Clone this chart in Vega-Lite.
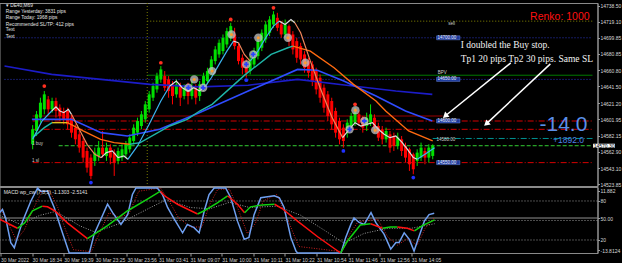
{
"$schema":"https://vega.github.io/schema/vega-lite/v6.json",
"background":"#000000",
"padding":{"left":-4.5,"top":2,"right":0,"bottom":0},
"spacing":1,
"bounds":"flush",
"config":{"view":{"stroke":"#8a8a8a","strokeWidth":1},"axis":{"labelFont":"Liberation Sans","grid":false,"title":null}},
"datasets":{
"candles":[
{"i":7,"o":14572,"c":14590,"h":14595,"l":14566},{"i":8,"o":14588,"c":14608,"h":14612,"l":14582},{"i":9,"o":14604,"c":14622,"h":14628,"l":14598},{"i":10,"o":14614,"c":14632,"h":14636,"l":14608},
{"i":11,"o":14626,"c":14614,"h":14630,"l":14608},{"i":12,"o":14614,"c":14624,"h":14628,"l":14610},{"i":13,"o":14624,"c":14612,"h":14628,"l":14604},{"i":14,"o":14616,"c":14606,"h":14620,"l":14600},
{"i":15,"o":14612,"c":14602,"h":14616,"l":14596},{"i":16,"o":14612,"c":14596,"h":14616,"l":14590},{"i":17,"o":14604,"c":14586,"h":14608,"l":14580},{"i":18,"o":14592,"c":14578,"h":14596,"l":14572},
{"i":19,"o":14584,"c":14568,"h":14588,"l":14562},{"i":20,"o":14576,"c":14556,"h":14580,"l":14550},{"i":21,"o":14564,"c":14544,"h":14568,"l":14538},{"i":22,"o":14556,"c":14534,"h":14560,"l":14530},
{"i":23,"o":14552,"c":14562,"h":14568,"l":14546},{"i":24,"o":14558,"c":14568,"h":14576,"l":14552},{"i":25,"o":14568,"c":14560,"h":14588,"l":14556},{"i":26,"o":14558,"c":14568,"h":14574,"l":14552},
{"i":27,"o":14568,"c":14556,"h":14572,"l":14548},{"i":28,"o":14562,"c":14550,"h":14566,"l":14534},{"i":29,"o":14552,"c":14564,"h":14568,"l":14548},{"i":30,"o":14556,"c":14566,"h":14572,"l":14552},
{"i":31,"o":14560,"c":14572,"h":14576,"l":14556},{"i":32,"o":14566,"c":14580,"h":14584,"l":14562},{"i":33,"o":14576,"c":14592,"h":14596,"l":14572},{"i":34,"o":14586,"c":14600,"h":14604,"l":14582},
{"i":35,"o":14594,"c":14608,"h":14612,"l":14590},{"i":36,"o":14602,"c":14620,"h":14624,"l":14598},{"i":37,"o":14614,"c":14632,"h":14636,"l":14610},{"i":38,"o":14628,"c":14642,"h":14646,"l":14624},
{"i":39,"o":14638,"c":14654,"h":14658,"l":14634},{"i":40,"o":14650,"c":14662,"h":14666,"l":14646},{"i":41,"o":14654,"c":14640,"h":14660,"l":14636},{"i":42,"o":14650,"c":14636,"h":14654,"l":14628},
{"i":43,"o":14644,"c":14630,"h":14648,"l":14620},{"i":44,"o":14632,"c":14644,"h":14650,"l":14628},{"i":45,"o":14642,"c":14628,"h":14646,"l":14618},{"i":46,"o":14630,"c":14640,"h":14644,"l":14626},
{"i":47,"o":14640,"c":14630,"h":14646,"l":14620},{"i":48,"o":14630,"c":14642,"h":14650,"l":14626},{"i":49,"o":14640,"c":14628,"h":14644,"l":14620},{"i":50,"o":14630,"c":14644,"h":14648,"l":14624},
{"i":51,"o":14640,"c":14654,"h":14658,"l":14636},{"i":52,"o":14648,"c":14660,"h":14664,"l":14644},{"i":53,"o":14660,"c":14674,"h":14678,"l":14656},{"i":54,"o":14672,"c":14686,"h":14690,"l":14668},
{"i":55,"o":14680,"c":14694,"h":14698,"l":14676},{"i":56,"o":14684,"c":14700,"h":14704,"l":14680},{"i":57,"o":14692,"c":14708,"h":14712,"l":14688},{"i":58,"o":14700,"c":14714,"h":14718,"l":14696},
{"i":59,"o":14704,"c":14690,"h":14712,"l":14686},{"i":60,"o":14690,"c":14672,"h":14694,"l":14668},{"i":61,"o":14676,"c":14664,"h":14680,"l":14656},{"i":62,"o":14670,"c":14658,"h":14674,"l":14652},
{"i":63,"o":14660,"c":14674,"h":14678,"l":14656},{"i":64,"o":14668,"c":14684,"h":14688,"l":14664},{"i":65,"o":14678,"c":14696,"h":14700,"l":14674},{"i":66,"o":14688,"c":14706,"h":14710,"l":14684},
{"i":67,"o":14698,"c":14716,"h":14720,"l":14694},{"i":68,"o":14706,"c":14722,"h":14726,"l":14702},{"i":69,"o":14716,"c":14728,"h":14732,"l":14712},{"i":70,"o":14724,"c":14712,"h":14730,"l":14708},
{"i":71,"o":14716,"c":14704,"h":14720,"l":14700},{"i":72,"o":14704,"c":14716,"h":14722,"l":14700},{"i":73,"o":14714,"c":14696,"h":14716,"l":14690},{"i":74,"o":14704,"c":14686,"h":14708,"l":14680},
{"i":75,"o":14696,"c":14676,"h":14700,"l":14670},{"i":76,"o":14690,"c":14674,"h":14694,"l":14668},{"i":77,"o":14680,"c":14664,"h":14684,"l":14658},{"i":78,"o":14672,"c":14658,"h":14676,"l":14652},
{"i":79,"o":14668,"c":14648,"h":14672,"l":14642},{"i":80,"o":14660,"c":14638,"h":14664,"l":14632},{"i":81,"o":14652,"c":14628,"h":14656,"l":14622},{"i":82,"o":14640,"c":14616,"h":14644,"l":14610},
{"i":83,"o":14632,"c":14606,"h":14636,"l":14600},{"i":84,"o":14624,"c":14596,"h":14628,"l":14590},{"i":85,"o":14612,"c":14586,"h":14616,"l":14580},{"i":86,"o":14600,"c":14578,"h":14604,"l":14572},
{"i":87,"o":14592,"c":14576,"h":14596,"l":14568},{"i":88,"o":14588,"c":14598,"h":14602,"l":14580},{"i":89,"o":14594,"c":14606,"h":14610,"l":14590},{"i":90,"o":14598,"c":14610,"h":14616,"l":14594},
{"i":91,"o":14608,"c":14598,"h":14612,"l":14594},{"i":92,"o":14604,"c":14592,"h":14606,"l":14586},{"i":93,"o":14594,"c":14604,"h":14610,"l":14588},{"i":94,"o":14598,"c":14608,"h":14620,"l":14594},
{"i":95,"o":14604,"c":14592,"h":14608,"l":14586},{"i":96,"o":14594,"c":14580,"h":14598,"l":14576},{"i":97,"o":14590,"c":14578,"h":14594,"l":14572},{"i":98,"o":14578,"c":14588,"h":14592,"l":14574},
{"i":99,"o":14584,"c":14568,"h":14588,"l":14562},{"i":100,"o":14582,"c":14570,"h":14586,"l":14564},{"i":101,"o":14570,"c":14580,"h":14586,"l":14566},{"i":102,"o":14578,"c":14564,"h":14582,"l":14558},
{"i":103,"o":14570,"c":14556,"h":14574,"l":14550},{"i":104,"o":14566,"c":14548,"h":14568,"l":14540},{"i":105,"o":14560,"c":14542,"h":14562,"l":14536},{"i":106,"o":14552,"c":14562,"h":14566,"l":14546},
{"i":107,"o":14556,"c":14568,"h":14574,"l":14552},{"i":108,"o":14564,"c":14556,"h":14568,"l":14548},{"i":109,"o":14556,"c":14568,"h":14572,"l":14550},{"i":110,"o":14558,"c":14570,"h":14572,"l":14554}
],
"levels":[
{"p":14720,"a":36.5,"b":151.14,"k":"tp"},{"p":14700,"a":-0.25,"b":151.14,"k":"round"},{"p":14655,"a":36.5,"b":151.14,"k":"bpv"},{"p":14650,"a":-0.25,"b":151.14,"k":"round"},
{"p":14606,"a":7,"b":112.5,"k":"entry"},{"p":14600,"a":7,"b":151.14,"k":"level"},{"p":14590,"a":7,"b":151.14,"k":"level"},{"p":14579,"a":110,"b":151.14,"k":"profit"},
{"p":14570.3,"a":13.7,"b":151.14,"k":"bid"},{"p":14550,"a":7,"b":151.14,"k":"level"}
],
"slow":[
{"i":-0.25,"p":14666,"m":"A"},{"i":11.9,"p":14656,"m":"A"},{"i":24.6,"p":14650,"m":"A"},{"i":37.2,"p":14644,"m":"A"},{"i":49.9,"p":14641,"m":"A"},{"i":62.5,"p":14643,"m":"A"},{"i":75.2,"p":14650,"m":"A"},{"i":87.8,"p":14643,"m":"A"},{"i":100.5,"p":14636,"m":"A"},{"i":109.9,"p":14632,"m":"A"},
{"i":6.8,"p":14602,"m":"B"},{"i":17,"p":14602,"m":"B"},{"i":24.6,"p":14586,"m":"B"},{"i":31.4,"p":14582,"m":"B"},{"i":39.7,"p":14590,"m":"B"},{"i":49.9,"p":14610,"m":"B"},{"i":62.5,"p":14636,"m":"B"},{"i":75.2,"p":14662,"m":"B"},{"i":80.3,"p":14661,"m":"B"},{"i":87.1,"p":14648,"m":"B"},{"i":95.4,"p":14630,"m":"B"},{"i":103,"p":14612,"m":"B"},{"i":109.9,"p":14600,"m":"B"}
],
"medium":[
{"i":7,"p":14580,"s":1,"c":"up"},{"i":10,"p":14592,"s":1,"c":"up"},{"i":12,"p":14598,"s":1,"c":"up"},
{"i":12,"p":14598,"s":2,"c":"mid"},{"i":16,"p":14598,"s":2,"c":"mid"},
{"i":16,"p":14598,"s":3,"c":"down"},{"i":20,"p":14588,"s":3,"c":"down"},{"i":24.5,"p":14578,"s":3,"c":"down"},{"i":28,"p":14574,"s":3,"c":"down"},{"i":32,"p":14572,"s":3,"c":"down"},
{"i":32,"p":14572,"s":4,"c":"up"},{"i":34.7,"p":14574,"s":4,"c":"up"},{"i":42.3,"p":14594,"s":4,"c":"up"},{"i":46.8,"p":14602,"s":4,"c":"up"},{"i":50,"p":14612,"s":4,"c":"up"},{"i":53.2,"p":14620,"s":4,"c":"up"},{"i":61.8,"p":14656,"s":4,"c":"up"},{"i":68.4,"p":14680,"s":4,"c":"up"},{"i":72.7,"p":14688,"s":4,"c":"up"},{"i":74,"p":14690,"s":4,"c":"up"},
{"i":74,"p":14690,"s":5,"c":"down"},{"i":78.5,"p":14684,"s":5,"c":"down"},{"i":84.6,"p":14664,"s":5,"c":"down"},{"i":89.6,"p":14644,"s":5,"c":"down"},{"i":95.4,"p":14624,"s":5,"c":"down"},{"i":97.9,"p":14612,"s":5,"c":"down"},{"i":103.8,"p":14588,"s":5,"c":"down"},{"i":110,"p":14576,"s":5,"c":"down"}
],
"fast":[
{"i":7,"p":14578,"s":1,"c":"up"},{"i":9.4,"p":14600,"s":1,"c":"up"},{"i":11.9,"p":14612,"s":1,"c":"up"},
{"i":11.9,"p":14612,"s":2,"c":"flat"},{"i":13,"p":14617,"s":2,"c":"flat"},{"i":14,"p":14612,"s":2,"c":"flat"},{"i":15,"p":14610,"s":2,"c":"flat"},{"i":16.2,"p":14614,"s":2,"c":"flat"},{"i":17,"p":14608,"s":2,"c":"flat"},
{"i":17,"p":14608,"s":3,"c":"down"},{"i":19,"p":14590,"s":3,"c":"down"},{"i":21,"p":14572,"s":3,"c":"down"},{"i":23,"p":14560,"s":3,"c":"down"},{"i":24.6,"p":14556,"s":3,"c":"down"},
{"i":24.6,"p":14556,"s":4,"c":"flat"},{"i":26,"p":14562,"s":4,"c":"flat"},{"i":27.5,"p":14564,"s":4,"c":"flat"},{"i":29,"p":14556,"s":4,"c":"flat"},{"i":30.5,"p":14558,"s":4,"c":"flat"},{"i":31.5,"p":14554,"s":4,"c":"flat"},
{"i":31.5,"p":14554,"s":5,"c":"up"},{"i":34,"p":14570,"s":5,"c":"up"},{"i":37,"p":14596,"s":5,"c":"up"},{"i":40,"p":14624,"s":5,"c":"up"},{"i":42.3,"p":14642,"s":5,"c":"up"},
{"i":42.3,"p":14642,"s":6,"c":"flat"},{"i":44,"p":14648,"s":6,"c":"flat"},{"i":45.5,"p":14640,"s":6,"c":"flat"},{"i":47,"p":14636,"s":6,"c":"flat"},{"i":48.5,"p":14640,"s":6,"c":"flat"},{"i":50,"p":14636,"s":6,"c":"flat"},{"i":51.5,"p":14642,"s":6,"c":"flat"},
{"i":51.5,"p":14642,"s":7,"c":"up"},{"i":53,"p":14652,"s":7,"c":"up"},{"i":55,"p":14668,"s":7,"c":"up"},{"i":57,"p":14684,"s":7,"c":"up"},{"i":58.7,"p":14696,"s":7,"c":"up"},
{"i":58.7,"p":14696,"s":8,"c":"flat"},{"i":60,"p":14694,"s":8,"c":"flat"},
{"i":60,"p":14694,"s":9,"c":"down"},{"i":61.5,"p":14680,"s":9,"c":"down"},{"i":63,"p":14672,"s":9,"c":"down"},
{"i":63,"p":14672,"s":10,"c":"up"},{"i":65,"p":14684,"s":10,"c":"up"},{"i":67,"p":14700,"s":10,"c":"up"},{"i":69,"p":14714,"s":10,"c":"up"},{"i":70.5,"p":14720,"s":10,"c":"up"},
{"i":70.5,"p":14720,"s":11,"c":"flat"},{"i":72,"p":14716,"s":11,"c":"flat"},{"i":73.5,"p":14722,"s":11,"c":"flat"},{"i":74.5,"p":14718,"s":11,"c":"flat"},
{"i":74.5,"p":14718,"s":12,"c":"down"},{"i":76,"p":14706,"s":12,"c":"down"},{"i":78.5,"p":14672,"s":12,"c":"down"},{"i":81,"p":14640,"s":12,"c":"down"},{"i":84,"p":14605,"s":12,"c":"down"},{"i":86.8,"p":14580,"s":12,"c":"down"},
{"i":86.8,"p":14580,"s":13,"c":"flat"},{"i":88.5,"p":14590,"s":13,"c":"flat"},{"i":90,"p":14598,"s":13,"c":"flat"},{"i":91.5,"p":14594,"s":13,"c":"flat"},{"i":93,"p":14596,"s":13,"c":"flat"},{"i":94.5,"p":14598,"s":13,"c":"flat"},{"i":96,"p":14590,"s":13,"c":"flat"},{"i":97.5,"p":14584,"s":13,"c":"flat"},{"i":99,"p":14580,"s":13,"c":"flat"},{"i":100.5,"p":14582,"s":13,"c":"flat"},{"i":102,"p":14575,"s":13,"c":"flat"},{"i":103.5,"p":14566,"s":13,"c":"flat"},{"i":105,"p":14556,"s":13,"c":"flat"},{"i":106,"p":14554,"s":13,"c":"flat"},
{"i":106,"p":14554,"s":14,"c":"up"},{"i":108,"p":14560,"s":14,"c":"up"},{"i":110.5,"p":14568,"s":14,"c":"up"}
],
"circles":[
{"i":58.2,"p":14704,"t":"o"},{"i":65.1,"p":14700,"t":"o"},{"i":72.7,"p":14700,"t":"o"},{"i":53.2,"p":14660,"t":"o"},{"i":48.6,"p":14650,"t":"o"},{"i":77.2,"p":14670,"t":"o"},{"i":90.1,"p":14613,"t":"o"},{"i":95.2,"p":14589,"t":"o"},
{"i":47.1,"p":14640,"t":"x"},{"i":50.9,"p":14640,"t":"x"},{"i":62,"p":14668,"t":"x"},{"i":63.8,"p":14680,"t":"x"},{"i":92.4,"p":14600,"t":"x"},{"i":88.6,"p":14590,"t":"x"}
],
"pivots":[
{"i":10,"p":14642,"t":"hi"},{"i":40,"p":14670,"t":"hi"},{"i":58,"p":14722,"t":"hi"},{"i":69,"p":14736,"t":"hi"},{"i":90,"p":14620,"t":"hi"},
{"i":22,"p":14526,"t":"lo"},{"i":62,"p":14649,"t":"lo"},{"i":87,"p":14564,"t":"lo"},{"i":105,"p":14532,"t":"lo"}
],
"boxes":[
{"a":111,"b":117,"lo":14697.6,"hi":14702.4,"p":14700,"t":"14700.00"},{"a":111,"b":117,"lo":14647.6,"hi":14652.4,"p":14650,"t":"14650.00"},
{"a":111,"b":117,"lo":14597.6,"hi":14602.4,"p":14600,"t":"14600.00"},{"a":111,"b":117,"lo":14547.6,"hi":14552.4,"p":14550,"t":"14550.00"}
],
"stoch":[
{"i":-0.25,"v":62},{"i":0.5,"v":67},{"i":1.3,"v":54},{"i":2.6,"v":16},{"i":3.5,"v":8},{"i":4.3,"v":24},{"i":5.6,"v":49},{"i":7.7,"v":80},{"i":9.4,"v":100},{"i":10.2,"v":95},{"i":11.9,"v":95},{"i":13.6,"v":70},{"i":15.3,"v":38},{"i":17.4,"v":0},{"i":22.5,"v":0},{"i":23.7,"v":29},{"i":25.4,"v":52},{"i":27.1,"v":75},{"i":28.4,"v":62},{"i":30.5,"v":44},{"i":32.2,"v":59},{"i":33.4,"v":90},{"i":34.3,"v":100},{"i":39.7,"v":100},{"i":41,"v":90},{"i":42.3,"v":70},{"i":44,"v":52},{"i":46.1,"v":31},{"i":47.3,"v":44},{"i":49,"v":39},{"i":50.3,"v":31},{"i":51.6,"v":65},{"i":52.8,"v":90},{"i":54.1,"v":100},{"i":57,"v":100},{"i":58.3,"v":85},{"i":60,"v":49},{"i":61.7,"v":21},{"i":62.9,"v":24},{"i":64.2,"v":59},{"i":65.9,"v":85},{"i":69.3,"v":88},{"i":70.6,"v":85},{"i":71.8,"v":70},{"i":73.5,"v":24},{"i":74.8,"v":3},{"i":75.2,"v":0},{"i":86.2,"v":0},{"i":87.4,"v":24},{"i":88.7,"v":44},{"i":89.5,"v":54},{"i":90.8,"v":47},{"i":92.1,"v":44},{"i":93.8,"v":62},{"i":95,"v":47},{"i":97.1,"v":29},{"i":98.8,"v":6},{"i":100.1,"v":16},{"i":100.9,"v":16},{"i":102.2,"v":31},{"i":103.5,"v":21},{"i":104.7,"v":3},{"i":106,"v":26},{"i":107.3,"v":49},{"i":108.5,"v":59},{"i":109.8,"v":61}
],
"stochsig":[
{"i":-0.25,"v":70},{"i":2,"v":45},{"i":4,"v":20},{"i":6,"v":35},{"i":8.5,"v":70},{"i":10.5,"v":95},{"i":12.5,"v":95},{"i":14.5,"v":70},{"i":16.5,"v":35},{"i":18.5,"v":5},{"i":23,"v":2},{"i":25,"v":30},{"i":27.5,"v":62},{"i":30,"v":55},{"i":32.5,"v":60},{"i":35,"v":95},{"i":40.5,"v":100},{"i":42.5,"v":82},{"i":45,"v":55},{"i":48,"v":40},{"i":51,"v":40},{"i":53,"v":75},{"i":55,"v":98},{"i":58,"v":98},{"i":60,"v":70},{"i":62.5,"v":30},{"i":64.5,"v":45},{"i":66.5,"v":80},{"i":70,"v":90},{"i":72.5,"v":55},{"i":75.5,"v":10},{"i":86.5,"v":2},{"i":88.5,"v":30},{"i":90.5,"v":48},{"i":93,"v":50},{"i":95.5,"v":52},{"i":98,"v":25},{"i":100.5,"v":12},{"i":103,"v":22},{"i":105.5,"v":12},{"i":107.5,"v":38},{"i":109.9,"v":55}
],
"macdsig":[
{"i":-0.25,"v":58},{"i":5,"v":44},{"i":10,"v":58},{"i":14,"v":64},{"i":20,"v":42},{"i":24,"v":32},{"i":30,"v":45},{"i":38,"v":70},{"i":42,"v":82},{"i":48,"v":70},{"i":53,"v":68},{"i":58,"v":78},{"i":63,"v":70},{"i":70,"v":72},{"i":76,"v":58},{"i":82,"v":35},{"i":87,"v":15},{"i":92,"v":30},{"i":98,"v":38},{"i":104,"v":38},{"i":109.9,"v":45}
],
"macd":[
{"i":-0.25,"v":52,"s":1,"c":"dn"},{"i":4.3,"v":38,"s":1,"c":"dn"},
{"i":4.3,"v":38,"s":2,"c":"up"},{"i":6.1,"v":46,"s":2,"c":"up"},{"i":8.1,"v":65,"s":2,"c":"up"},{"i":10.6,"v":72,"s":2,"c":"up"},
{"i":10.6,"v":72,"s":3,"c":"dn"},{"i":11.9,"v":71,"s":3,"c":"dn"},{"i":13.7,"v":65,"s":3,"c":"dn"},{"i":17,"v":46,"s":3,"c":"dn"},{"i":22,"v":22,"s":3,"c":"dn"},
{"i":22,"v":22,"s":4,"c":"up"},{"i":23.8,"v":29,"s":4,"c":"up"},{"i":27.1,"v":42,"s":4,"c":"up"},{"i":32.2,"v":65,"s":4,"c":"up"},{"i":37.2,"v":83,"s":4,"c":"up"},{"i":40.5,"v":95,"s":4,"c":"up"},
{"i":40.5,"v":95,"s":5,"c":"dn"},{"i":41.5,"v":88,"s":5,"c":"dn"},{"i":44.8,"v":75,"s":5,"c":"dn"},{"i":49.9,"v":60,"s":5,"c":"dn"},
{"i":49.9,"v":60,"s":6,"c":"up"},{"i":51.6,"v":65,"s":6,"c":"up"},{"i":54.9,"v":77,"s":6,"c":"up"},{"i":57.5,"v":88,"s":6,"c":"up"},
{"i":57.5,"v":88,"s":7,"c":"dn"},{"i":60,"v":75,"s":7,"c":"dn"},{"i":61.8,"v":62,"s":7,"c":"dn"},
{"i":61.8,"v":62,"s":8,"c":"up"},{"i":63.3,"v":71,"s":8,"c":"up"},{"i":66.3,"v":74,"s":8,"c":"up"},{"i":69.4,"v":75,"s":8,"c":"up"},
{"i":69.4,"v":75,"s":9,"c":"dn"},{"i":71.4,"v":68,"s":9,"c":"dn"},{"i":75.2,"v":49,"s":9,"c":"dn"},{"i":80.3,"v":25,"s":9,"c":"dn"},{"i":86.1,"v":0,"s":9,"c":"dn"},
{"i":86.1,"v":0,"s":10,"c":"up"},{"i":87.8,"v":18,"s":10,"c":"up"},{"i":91.1,"v":43,"s":10,"c":"up"},{"i":93.7,"v":45,"s":10,"c":"up"},
{"i":93.7,"v":45,"s":11,"c":"dn"},{"i":96.7,"v":38,"s":11,"c":"dn"},
{"i":96.7,"v":38,"s":12,"c":"up"},{"i":98.7,"v":40,"s":12,"c":"up"},{"i":100.5,"v":40,"s":12,"c":"up"},
{"i":100.5,"v":40,"s":13,"c":"dn"},{"i":103,"v":38,"s":13,"c":"dn"},{"i":104.8,"v":34,"s":13,"c":"dn"},
{"i":104.8,"v":34,"s":14,"c":"up"},{"i":106.8,"v":42,"s":14,"c":"up"},{"i":109.9,"v":51,"s":14,"c":"up"}
]
},
"vconcat":[
{
"width":598,"height":183,
"resolve":{"scale":{"color":"independent","strokeDash":"independent"}},
"encoding":{
 "x":{"field":"i","type":"quantitative","scale":{"domain":[-0.25,151.14],"nice":false,"zero":false},"axis":null},
 "y":{"field":"p","type":"quantitative","scale":{"domain":[14521.9,14741.8],"nice":false,"zero":false},
  "axis":{"orient":"right","title":null,"grid":false,"values":[14738.5,14719.1,14699.85,14680.85,14660.8,14641.5,14621.2,14601.95,14582.15,14562.9,14543.1,14523.85],"format":".2f","labelFontSize":5,"labelColor":"#d8d8d8","tickColor":"#9a9a9a","domainColor":"#9a9a9a","tickSize":2,"labelPadding":0.5,"labelOverlap":false,"labelFlush":false,"labelBaseline":"middle"}}
},
"layer":[
{"data":{"name":"levels"},"mark":{"type":"rule","strokeWidth":1},
 "encoding":{"x":{"field":"a","type":"quantitative"},"x2":{"field":"b"},
 "color":{"field":"k","type":"nominal","legend":null,"scale":{"domain":["tp","round","bpv","entry","level","profit","bid"],"range":["#8a8a00","#2a35c0","#008a00","#b00000","#d40000","#009090","#32cd32"]}},
 "strokeDash":{"field":"k","type":"nominal","legend":null,"scale":{"domain":["tp","round","bpv","entry","level","profit","bid"],"range":[[1,2],[1,2],[1,0],[1,0],[6,2,1,2],[6,2,1,2],[4,2]]}}}},
{"data":{"values":[{"i":36.5,"p":14741.8,"q":14521.9}]},"mark":{"type":"rule","color":"#7a7a00","strokeDash":[1,2]},
 "encoding":{"y2":{"field":"q"}}},
{"data":{"name":"candles"},"mark":{"type":"rule","strokeWidth":1},
 "encoding":{"y":{"field":"l","type":"quantitative"},"y2":{"field":"h"},
 "color":{"condition":{"test":"datum.c >= datum.o","value":"#00e000"},"value":"#ff0000"}}},
{"data":{"name":"candles"},"mark":{"type":"bar","size":3},
 "encoding":{"y":{"field":"o","type":"quantitative"},"y2":{"field":"c"},
 "color":{"condition":{"test":"datum.c >= datum.o","value":"#00e000"},"value":"#ff0000"}}},
{"data":{"name":"slow"},"mark":{"type":"line","strokeWidth":1.6},
 "encoding":{"color":{"field":"m","type":"nominal","legend":null,"scale":{"domain":["A","B"],"range":["#1c1cc8","#2f4cff"]}}}},
{"data":{"name":"medium"},"mark":{"type":"line","strokeWidth":1.4},
 "encoding":{"detail":{"field":"s","type":"nominal"},
 "color":{"field":"c","type":"nominal","legend":null,"scale":{"domain":["up","mid","down"],"range":["#1fb5a8","#e0c020","#ff6a10"]}}}},
{"data":{"name":"fast"},"mark":{"type":"line","strokeWidth":1.2},
 "encoding":{"detail":{"field":"s","type":"nominal"},
 "color":{"field":"c","type":"nominal","legend":null,"scale":{"domain":["up","flat","down"],"range":["#3cb4f0","#dcdcdc","#f0845a"]}}}},
{"data":{"name":"circles"},"mark":{"type":"point","filled":true,"size":70,"color":"#c4c4c4","opacity":0.75}},
{"data":{"name":"circles"},"transform":[{"filter":"datum.t == 'o'"}],"mark":{"type":"point","filled":true,"size":9,"color":"#ff9a30","opacity":1}},
{"data":{"name":"circles"},"transform":[{"filter":"datum.t == 'x'"}],"mark":{"type":"point","shape":"cross","filled":true,"size":22,"color":"#2a40ff","opacity":1}},
{"data":{"name":"pivots"},"mark":{"type":"point","filled":true,"size":14,"opacity":1},
 "encoding":{"color":{"field":"t","type":"nominal","legend":null,"scale":{"domain":["hi","lo"],"range":["#ff3020","#2030ff"]}}}},
{"data":{"values":[{"i":130.1,"p":14669.8,"i2":113.2,"p2":14606},{"i":140.3,"p":14668.6,"i2":123.8,"p2":14596.6}]},"mark":{"type":"rule","color":"#ffffff","strokeWidth":1.5},
 "encoding":{"x2":{"field":"i2"},"y2":{"field":"p2"}}},
{"data":{"values":[{"i":113.2,"p":14606},{"i":123.8,"p":14596.6}]},"mark":{"type":"point","shape":"triangle-up","filled":true,"size":45,"angle":229,"color":"#ffffff","opacity":1}},
{"data":{"name":"boxes"},"mark":{"type":"rect","fill":"#1d3a9c","stroke":"#6a88e0","strokeWidth":0.5},
 "encoding":{"x":{"field":"a","type":"quantitative"},"x2":{"field":"b"},"y":{"field":"lo","type":"quantitative"},"y2":{"field":"hi"}}},
{"data":{"name":"boxes"},"mark":{"type":"text","align":"left","baseline":"middle","fontSize":4.5,"color":"#e8ecff","dx":1},
 "encoding":{"x":{"field":"a","type":"quantitative"},"text":{"field":"t"}}},
{"data":{"values":[{"i":114,"p":14716.5,"t":"sell"},{"i":111.3,"p":14657.5,"t":"BPV"},{"i":111,"p":14577,"t":"14580.00"},{"i":6.8,"p":14572.5,"t":"1 buy"},{"i":6.8,"p":14552.5,"t":"1 sl"}]},
 "mark":{"type":"text","align":"left","baseline":"middle","fontSize":4.5,"color":"#cfcfcf"},
 "encoding":{"text":{"field":"t"}}},
{"data":{"values":[{"i":0.1,"p":14738,"t":"▾ DE40,M69"},{"i":0.1,"p":14730.5,"t":"Range Yesterday: 3831 pips"},{"i":0.1,"p":14723.3,"t":"Range Today: 1968 pips"},{"i":0.1,"p":14715.5,"t":"Recommended SL/TP: 412 pips"},{"i":0.1,"p":14709,"t":"Text"},{"i":0.1,"p":14701.5,"t":"Text"}]},
 "mark":{"type":"text","align":"left","baseline":"middle","fontSize":4.8,"color":"#e6e6e6"},
 "encoding":{"text":{"field":"t"}}},
{"data":{"values":[{"i":150.4,"p":14725,"t":"Renko: 1000"}]},
 "mark":{"type":"text","align":"right","baseline":"middle","fontSize":10.5,"color":"#ff1010"},
 "encoding":{"text":{"field":"t"}}},
{"data":{"values":[{"i":117.2,"p":14691,"t":"I doubled the Buy stop."},{"i":117.2,"p":14675,"t":"Tp1 20 pips Tp2 30 pips. Same SL"}]},
 "mark":{"type":"text","align":"left","baseline":"middle","fontSize":9.5,"font":"Liberation Serif","color":"#f2f2f2"},
 "encoding":{"text":{"field":"t"}}},
{"data":{"values":[{"i":137.5,"p":14594.6,"t":"-14.0"}]},
 "mark":{"type":"text","align":"left","baseline":"middle","fontSize":21,"color":"#5a8fe8"},
 "encoding":{"text":{"field":"t"}}},
{"data":{"values":[{"i":141,"p":14577,"t":"+1892.0"}]},
 "mark":{"type":"text","align":"left","baseline":"middle","fontSize":8.5,"color":"#4d82e6"},
 "encoding":{"text":{"field":"t"}}},
{"data":{"values":[{"a":151.3,"b":156.9,"lo":14567.9,"hi":14572.7}]},"mark":{"type":"rect","fill":"#ffffff"},
 "encoding":{"x":{"field":"a","type":"quantitative"},"x2":{"field":"b"},"y":{"field":"lo","type":"quantitative"},"y2":{"field":"hi"}}},
{"data":{"values":[{"i":151.45,"p":14570.3,"t":"14570.30"}]},
 "mark":{"type":"text","align":"left","baseline":"middle","fontSize":5,"color":"#000000"},
 "encoding":{"text":{"field":"t"}}}
]
},
{
"width":598,"height":66,
"resolve":{"scale":{"color":"independent","strokeDash":"independent"}},
"encoding":{
 "x":{"field":"i","type":"quantitative","scale":{"domain":[-0.25,151.14],"nice":false,"zero":false},
  "axis":{"orient":"bottom","title":null,"grid":false,"values":[0,8,16,24,32,40,48,56,64,72,80,88,96,104],"labelExpr":"['30 Mar 2022','30 Mar 18:34','30 Mar 19:39','30 Mar 23:25','30 Mar 23:56','31 Mar 03:41','31 Mar 09:07','31 Mar 10:00','31 Mar 10:11','31 Mar 10:22','31 Mar 10:54','31 Mar 11:46','31 Mar 12:56','31 Mar 14:05'][round(datum.value/8)]","labelAlign":"left","labelFontSize":5,"labelColor":"#d0d0d0","tickColor":"#9a9a9a","tickSize":3,"labelPadding":1,"domain":false,"labelFlush":false,"labelOverlap":false}},
 "y":{"field":"v","type":"quantitative","scale":{"domain":[0,101.5],"nice":false,"zero":false},
  "axis":{"orient":"right","title":null,"grid":false,"values":[95.4,80,53.8,20,4.6],"labelExpr":"datum.value > 95 ? '11.882' : datum.value < 5 ? '-13.8124' : (datum.value > 50 && datum.value < 60) ? '50.00' : format(datum.value, 'd')","labelFontSize":5,"labelColor":"#d8d8d8","tickColor":"#9a9a9a","domainColor":"#9a9a9a","tickSize":2,"labelPadding":0.5,"labelOverlap":false,"labelFlush":false,"labelBaseline":"middle"}}
},
"layer":[
{"data":{"values":[{"i":-0.25,"j":151.14,"v":80,"k":"lvl"},{"i":-0.25,"j":151.14,"v":50,"k":"lvl"},{"i":-0.25,"j":151.14,"v":20,"k":"lvl"},{"i":-0.25,"j":151.14,"v":53.8,"k":"zero"}]},"mark":{"type":"rule","strokeWidth":1},
 "encoding":{"x2":{"field":"j"},
 "color":{"field":"k","type":"nominal","legend":null,"scale":{"domain":["lvl","zero"],"range":["#9a9a9a","#a8a8a8"]}},
 "strokeDash":{"field":"k","type":"nominal","legend":null,"scale":{"domain":["lvl","zero"],"range":[[1,2],[1,0]]}}}},
{"data":{"name":"macdsig"},"mark":{"type":"line","strokeWidth":1,"color":"#9a9a9a","strokeDash":[1,1.5]}},
{"data":{"name":"stochsig"},"mark":{"type":"line","strokeWidth":1,"color":"#d02020","strokeDash":[1,1.5]}},
{"data":{"name":"stoch"},"mark":{"type":"line","strokeWidth":1.5,"color":"#6f9ff0"}},
{"data":{"name":"macd"},"mark":{"type":"line","strokeWidth":1.5},
 "encoding":{"detail":{"field":"s","type":"nominal"},
 "color":{"field":"c","type":"nominal","legend":null,"scale":{"domain":["up","dn"],"range":["#10d010","#ff1010"]}}}},
{"data":{"values":[{"i":0.8,"v":94,"t":"MACD wp_cw (7,8,5) -1.1303 -2.5141"}]},
 "mark":{"type":"text","align":"left","baseline":"middle","fontSize":5,"color":"#e0e0e0"},
 "encoding":{"text":{"field":"t"}}}
]
}
]
}
